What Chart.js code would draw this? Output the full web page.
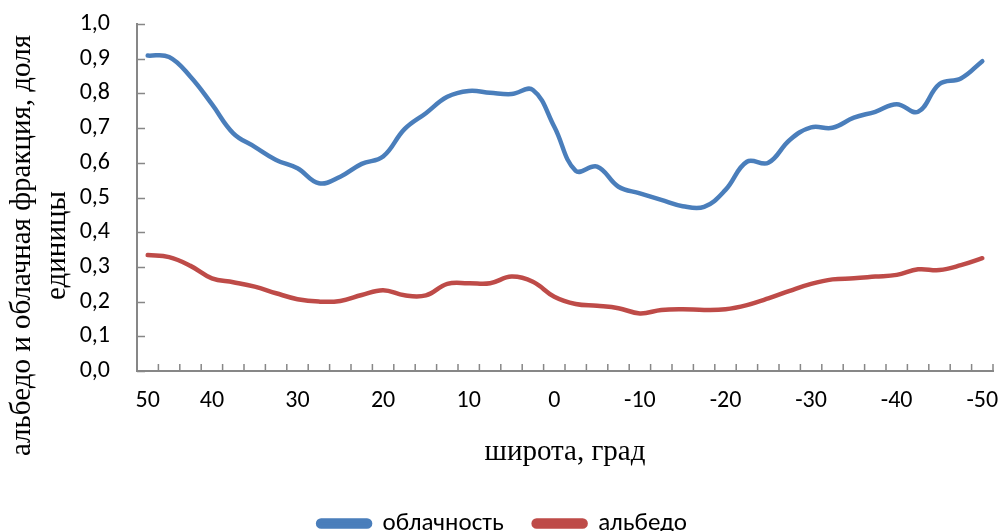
<!DOCTYPE html>
<html><head><meta charset="utf-8">
<script src="https://cdn.jsdelivr.net/npm/chart.js@4.4.1/dist/chart.umd.min.js"></script>
<style>html,body{margin:0;padding:0;background:#fff}#w{width:1003px;height:531px}</style>
</head><body><div id="w"><canvas id="c"></canvas></div>
<script>
const latitudes = [50, 46.7, 43.3, 40, 37.5, 35, 32.5, 30, 27.5, 25, 22.5, 20, 17.5, 15, 12.5, 10, 7.5, 5, 2.5, 0,
  -2.5, -5, -7.5, -10, -12.5, -15, -17.5, -20, -22.5, -25, -27.5, -30, -32.5, -35, -37.5, -40, -42.5, -45, -47.5, -50];
const cloudiness = [0.909, 0.905, 0.848, 0.769, 0.685, 0.646, 0.608, 0.584, 0.541, 0.560, 0.597, 0.618, 0.697, 0.743, 0.790, 0.807, 0.802, 0.798, 0.810, 0.704,
  0.577, 0.589, 0.531, 0.512, 0.493, 0.475, 0.473, 0.522, 0.603, 0.600, 0.666, 0.702, 0.701, 0.730, 0.747, 0.769, 0.747, 0.827, 0.843, 0.893];
const albedo = [0.334, 0.328, 0.303, 0.267, 0.256, 0.243, 0.224, 0.207, 0.200, 0.202, 0.219, 0.233, 0.218, 0.218, 0.251, 0.253, 0.253, 0.272, 0.257, 0.214,
  0.193, 0.188, 0.181, 0.166, 0.176, 0.178, 0.176, 0.178, 0.190, 0.209, 0.231, 0.251, 0.264, 0.267, 0.272, 0.277, 0.293, 0.291, 0.305, 0.325];
const seriesNames = ['облачность', 'альбедо'];
const yTitle = ['альбедо и облачная фракция, доля', 'единицы'];
const xTitle = 'широта, град';

const AXIS = '#878787';
const sansFont = '"Liberation Sans Narrow", Carlito, Lato, sans-serif';
const serifFont = '"Liberation Serif", "DejaVu Serif", serif';

const innerTicks = {
  id: 'innerTicks',
  afterDatasetsDraw(chart) {
    const ctx = chart.ctx, a = chart.chartArea;
    const xs = chart.scales.x, ys = chart.scales.y;
    ctx.save();
    ctx.strokeStyle = AXIS; ctx.lineWidth = 1.5;
    ctx.beginPath();
    ys.ticks.forEach((t, i) => {
      const y = Math.round(ys.getPixelForTick(i)) + 0.5;
      ctx.moveTo(a.left, y); ctx.lineTo(a.left + 8, y);
    });
    for (let k = 0; k <= latitudes.length; k++) {
      const x = xs.getPixelForValue(k - 0.5);
      ctx.moveTo(x, a.bottom); ctx.lineTo(x, a.bottom - 7);
    }
    ctx.stroke();
    ctx.restore();
  }
};

const yTitlePlugin = {
  id: 'yTitlePlugin',
  afterDraw(chart) {
    const ctx = chart.ctx, a = chart.chartArea;
    const cy = (a.top + a.bottom) / 2 + 48;
    ctx.save();
    ctx.fillStyle = '#000';
    ctx.font = '29px ' + serifFont;
    ctx.textAlign = 'center';
    ctx.textBaseline = 'middle';
    yTitle.forEach((line, i) => {
      ctx.save();
      ctx.translate(a.left - 115 + i * 35, cy);
      ctx.rotate(-Math.PI / 2);
      ctx.fillText(line, 0, 0);
      ctx.restore();
    });
    ctx.restore();
  }
};

new Chart(document.getElementById('c'), {
  type: 'line',
  data: {
    labels: latitudes,
    datasets: [
      { label: seriesNames[0], data: cloudiness, borderColor: '#4A7EBB', backgroundColor: '#4A7EBB', borderWidth: 4.5, pointRadius: 0, tension: 0.4, borderCapStyle: 'round' },
      { label: seriesNames[1], data: albedo, borderColor: '#BE4B48', backgroundColor: '#BE4B48', borderWidth: 4.5, pointRadius: 0, tension: 0.4, borderCapStyle: 'round' }
    ]
  },
  options: {
    responsive: true, maintainAspectRatio: false, animation: false,
    layout: { padding: { top: 24, right: 10, left: 12, bottom: -15 } },
    plugins: {
      tooltip: { enabled: false },
      legend: {
        position: 'bottom',
        labels: { boxWidth: 52, boxHeight: 6, useBorderRadius: true, borderRadius: 3, padding: 30, color: '#000', font: { family: sansFont, size: 25 } }
      }
    },
    scales: {
      x: {
        type: 'category', offset: true,
        grid: { display: true, offset: true, drawOnChartArea: false, drawTicks: true, tickLength: 14, tickColor: 'rgba(0,0,0,0)' },
        border: { color: AXIS, width: 2 },
        ticks: {
          autoSkip: false, maxRotation: 0, padding: 2, color: '#000',
          font: { family: sansFont, size: 24 },
          callback: function(v, i) { const l = latitudes[i]; return Number.isInteger(l) && l % 10 === 0 ? String(l) : ''; }
        },
        title: { display: true, text: xTitle, color: '#000', font: { family: serifFont, size: 29 }, padding: { top: 0, bottom: 11.6 } },
        afterFit(s) { s.height = 110; }
      },
      y: {
        min: 0, max: 1,
        grid: { display: true, drawOnChartArea: false, drawTicks: true, tickLength: 22, tickColor: 'rgba(0,0,0,0)' },
        border: { color: AXIS, width: 2 },
        ticks: { stepSize: 0.1, padding: 5, color: '#000', font: { family: sansFont, size: 24 },
          callback: v => v.toFixed(1).replace('.', ',') },
        title: { display: false },
        afterFit(s) { s.width = 125; }
      }
    }
  },
  plugins: [innerTicks, yTitlePlugin]
});
</script>
</body></html>
